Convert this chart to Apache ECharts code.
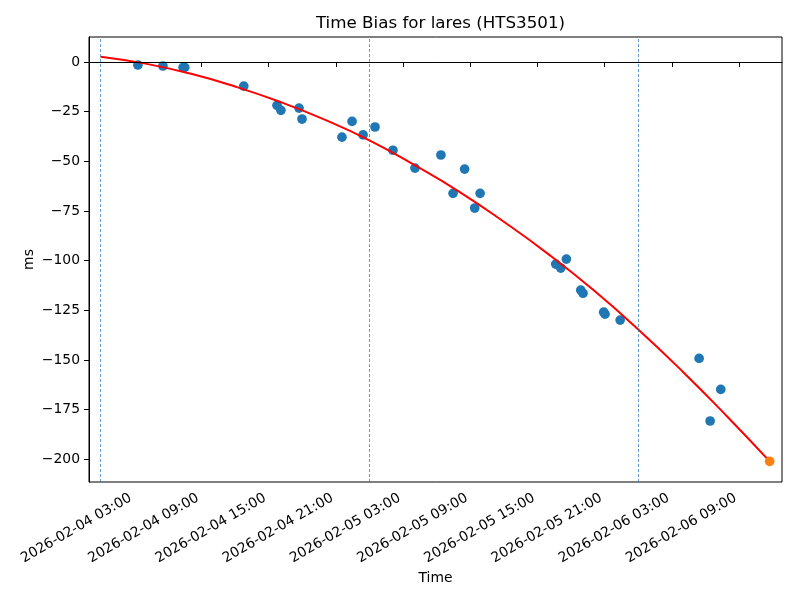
<!DOCTYPE html>
<html>
<head>
<meta charset="utf-8">
<script src="https://cdn.jsdelivr.net/npm/echarts@6/dist/echarts.min.js"></script>
<style>html,body{margin:0;padding:0;background:#fff;}#c{width:800px;height:600px;}</style>
</head>
<body>
<div id="c"></div>
<script>
// ---- data ----
const obsTimes = [
  '2026-02-04 03:20','2026-02-04 05:34','2026-02-04 07:22','2026-02-04 07:31',
  '2026-02-04 12:47','2026-02-04 15:45','2026-02-04 16:06','2026-02-04 17:43',
  '2026-02-04 17:59','2026-02-04 21:33','2026-02-04 22:27','2026-02-04 23:26',
  '2026-02-05 00:30','2026-02-05 02:06','2026-02-05 04:04','2026-02-05 06:23',
  '2026-02-05 07:28','2026-02-05 08:30','2026-02-05 09:24','2026-02-05 09:53',
  '2026-02-05 16:38','2026-02-05 17:05','2026-02-05 17:35','2026-02-05 18:52',
  '2026-02-05 19:04','2026-02-05 20:55','2026-02-05 21:02','2026-02-05 22:23',
  '2026-02-06 05:26','2026-02-06 06:25','2026-02-06 07:22'
];
const obsValues = [
  -1.5, -2.0, -2.7, -2.7,
  -12.1, -21.8, -24.3, -23.2,
  -28.7, -37.8, -29.9, -36.7,
  -32.7, -44.4, -53.4, -46.8,
  -66.1, -53.9, -73.5, -66.1,
  -101.7, -103.7, -99.2, -114.8,
  -116.4, -125.9, -126.9, -129.9,
  -149.2, -180.7, -164.8
];
const lastTimes = ['2026-02-06 11:44'];
const lastValues = [-201.0];
// fitted curve, every 4 hours
const fitTimes = [
  '2026-02-04 00:00','2026-02-04 04:00','2026-02-04 08:00','2026-02-04 12:00',
  '2026-02-04 16:00','2026-02-04 20:00','2026-02-05 00:00','2026-02-05 04:00',
  '2026-02-05 08:00','2026-02-05 12:00','2026-02-05 16:00','2026-02-05 20:00',
  '2026-02-06 00:00','2026-02-06 04:00','2026-02-06 08:00','2026-02-06 11:44'
];
const fitValues = [2.7, -0.8, -5.8, -12.3, -20.0, -29.0, -39.4, -51.8, -65.2, -80.4, -96.8, -114.8, -134.6, -156.0, -178.8, -201.0];
const dayLines = ['2026-02-04 00:00','2026-02-05 00:00','2026-02-06 00:00'];
const xTickLabels = [
  '2026-02-04 03:00','2026-02-04 09:00','2026-02-04 15:00','2026-02-04 21:00',
  '2026-02-05 03:00','2026-02-05 09:00','2026-02-05 15:00','2026-02-05 21:00',
  '2026-02-06 03:00','2026-02-06 09:00'
];
const yTicks = [0, -25, -50, -75, -100, -125, -150, -175, -200];
const xRange = ['2026-02-03 22:58', '2026-02-06 12:50'];
const yRange = [-211.4, 12.6];

// ---- helpers ----
function ts(s) {
  const m = s.match(/(\d+)-(\d+)-(\d+) (\d+):(\d+)/);
  return Date.UTC(+m[1], +m[2] - 1, +m[3], +m[4], +m[5]);
}
function pad(n) { return (n < 10 ? '0' : '') + n; }
function fmt(v) {
  const d = new Date(v);
  return d.getUTCFullYear() + '-' + pad(d.getUTCMonth() + 1) + '-' + pad(d.getUTCDate()) +
    ' ' + pad(d.getUTCHours()) + ':' + pad(d.getUTCMinutes());
}
const FONT = 'DejaVu Sans';
const xTickVals = xTickLabels.map(ts);
const obsData = obsTimes.map((t, i) => [ts(t), obsValues[i]]);
const lastData = lastTimes.map((t, i) => [ts(t), lastValues[i]]);
const fitData = fitTimes.map((t, i) => [ts(t), fitValues[i]]);

const chart = echarts.init(document.getElementById('c'), null, {renderer: 'canvas'});
chart.setOption({
  animation: false,
  backgroundColor: '#fff',
  title: {
    text: 'Time Bias for lares (HTS3501)',
    left: 435.5, top: 10, textAlign: 'center',
    textStyle: {fontFamily: FONT, fontSize: 16.7, fontWeight: 'normal', color: '#000'}
  },
  grid: {left: 89, right: 18, top: 37, bottom: 118, show: true, borderColor: '#000', borderWidth: 1, backgroundColor: 'transparent'},
  xAxis: {
    type: 'value',
    min: ts(xRange[0]), max: ts(xRange[1]),
    name: 'Time', nameLocation: 'middle', nameGap: 89, nameMoveOverlap: false,
    nameTextStyle: {fontFamily: FONT, fontSize: 13.9, color: '#000'},
    axisLine: {show: true, lineStyle: {color: '#000', width: 1}},
    axisTick: {show: true, length: 5, lineStyle: {color: '#000', width: 1}, customValues: xTickVals},
    axisLabel: {
      customValues: xTickVals, rotate: 30, margin: 21,
      align: 'right', verticalAlign: 'bottom',
      fontFamily: FONT, fontSize: 13.9, color: '#000',
      formatter: v => fmt(v)
    },
    splitLine: {show: false}
  },
  yAxis: {
    type: 'value',
    min: yRange[0], max: yRange[1],
    name: 'ms', nameLocation: 'middle', nameGap: 53, nameMoveOverlap: false,
    nameTextStyle: {fontFamily: FONT, fontSize: 13.9, color: '#000'},
    axisLine: {show: true, lineStyle: {color: '#000', width: 1}},
    axisTick: {show: true, length: 5, lineStyle: {color: '#000', width: 1}, customValues: yTicks},
    axisLabel: {
      customValues: yTicks, margin: 9,
      fontFamily: FONT, fontSize: 13.9, color: '#000',
      formatter: v => String(v).replace('-', '\u2212')
    },
    splitLine: {show: false}
  },
  series: [
    {
      type: 'scatter',
      data: obsData,
      symbolSize: 9.7,
      itemStyle: {color: '#1f77b4', opacity: 1},
      z: 2,
      markLine: {
        silent: true, symbol: 'none', label: {show: false},
        data: [
          {yAxis: 0, lineStyle: {color: '#000', type: 'solid', width: 1}},
          ...dayLines.map(d => ({xAxis: ts(d), lineStyle: {color: '#1f77b4', type: [3, 2], width: 0.7}}))
        ]
      }
    },
    {
      type: 'line',
      data: fitData,
      showSymbol: false,
      smooth: true,
      lineStyle: {color: '#ff0000', width: 2},
      z: 3
    },
    {
      type: 'scatter',
      data: lastData,
      symbolSize: 9.7,
      itemStyle: {color: '#ff7f0e', opacity: 1},
      z: 4
    }
  ]
});
</script>
</body>
</html>
